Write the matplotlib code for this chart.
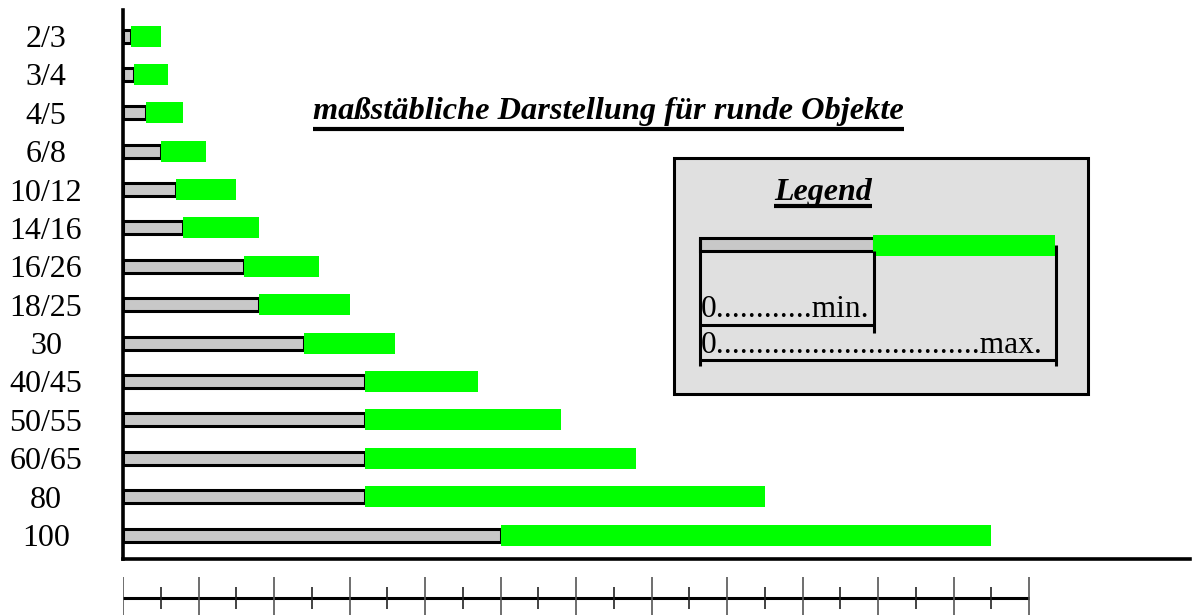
import matplotlib
matplotlib.use("Agg")
import matplotlib.pyplot as plt
from matplotlib.patches import Rectangle
from matplotlib.lines import Line2D
import numpy as np

# ---------------- data ----------------
categories = ["2/3", "3/4", "4/5", "6/8", "10/12", "14/16", "16/26", "18/25",
              "30", "40/45", "50/55", "60/65", "80", "100"]
min_values = [1, 1.5, 3, 5, 7, 8, 16, 18, 24, 32, 32, 32, 32, 50]
max_values = [5, 6, 8, 11, 15, 18, 26, 30, 36, 47, 58, 68, 85, 115]
ruler_max = 120
title_text = "maßstäbliche Darstellung für runde Objekte"
legend_title = "Legend"
legend_min_text = "0" + "." * 12 + "min."
legend_max_text = "0" + "." * 33 + "max."

# ---------------- layout ----------------
W, H = 1196, 616
SERIF = ["Liberation Serif", "DejaVu Serif"]
GRAY = "#c8c8c8"
GREEN = "#00ff00"
PX_PER_UNIT = 7.55

fig = plt.figure(figsize=(W / 100, H / 100), dpi=100)
fig.patch.set_facecolor("white")

ax_left_px, ax_right_px = 123, 1190
ax_top_px, ax_bottom_px = 10, 559
ax = fig.add_axes([ax_left_px / W, 1 - ax_bottom_px / H,
                   (ax_right_px - ax_left_px) / W, (ax_bottom_px - ax_top_px) / H])
ax.set_xlim(0, (ax_right_px - ax_left_px) / PX_PER_UNIT)
row_px = (535 - 36) / 13.0
ax.set_ylim((ax_bottom_px - 36) / row_px, -(36 - ax_top_px) / row_px)

y = np.arange(len(categories))
mins = np.array(min_values)
maxs = np.array(max_values)

ax.barh(y, mins, height=13 / row_px, color=GRAY, edgecolor="black",
        linewidth=2.2, zorder=2)
ax.barh(y, maxs - mins, left=mins, height=21 / row_px, color=GREEN,
        edgecolor="none", zorder=3)

for s in ["top", "right"]:
    ax.spines[s].set_visible(False)
ax.spines["left"].set_linewidth(2.6)
ax.spines["bottom"].set_linewidth(2.6)
ax.set_xticks([])
ax.set_yticks(y)
ax.set_yticklabels(categories, family=SERIF, fontsize=23)
for lbl in ax.get_yticklabels():
    lbl.set_horizontalalignment("center")
ax.tick_params(axis="y", length=0, pad=(ax_left_px - 46) * 72 / 100)

# ---------------- ruler below ----------------
ax_r = fig.add_axes([ax_left_px / W, 0, (ax_right_px - ax_left_px) / W, 46 / H])
ax_r.set_xlim(ax.get_xlim())
ax_r.set_ylim(0, 46)
ax_r.axis("off")
ax_r.plot([-0.13, ruler_max], [18, 18], color="black", lw=2.2,
          solid_capstyle="butt")
majors = np.arange(0, ruler_max + 1, 10)
minors = np.arange(5, ruler_max, 10)
ax_r.vlines(majors, 1, 39, color="#555555", lw=1.2)
ax_r.vlines(minors, 7, 29, color="#222222", lw=1.2)

# ---------------- overlay (pixel coordinates) ----------------
ov = fig.add_axes([0, 0, 1, 1], zorder=5)
ov.set_xlim(0, W)
ov.set_ylim(H, 0)
ov.axis("off")
ov.patch.set_alpha(0)


def underline(t, y_px, lw=3):
    fig.canvas.draw()
    bb = t.get_window_extent()
    x0 = bb.x0 * W / fig.bbox.width
    x1 = bb.x1 * W / fig.bbox.width
    ov.add_line(Line2D([x0, x1], [y_px, y_px], color="black", lw=lw,
                       solid_capstyle="butt"))


title = ov.text(313, 119, title_text, family=SERIF, fontsize=23.3,
                fontweight="bold", fontstyle="italic", ha="left",
                va="baseline")
underline(title, 128.5)

# legend box
ov.add_patch(Rectangle((674, 158), 414, 236, facecolor="#e0e0e0",
                       edgecolor="black", lw=2.2, zorder=1))
lt = ov.text(823, 200, legend_title, family=SERIF, fontsize=23,
             fontweight="bold", fontstyle="italic", ha="center",
             va="baseline", zorder=3)
underline(lt, 205.5)

ov.add_patch(Rectangle((700, 238), 174, 13, facecolor=GRAY,
                       edgecolor="black", lw=2.2, zorder=2))
ov.add_patch(Rectangle((873, 235), 182, 21, facecolor=GREEN,
                       edgecolor="none", zorder=3))
kw = dict(color="black", lw=2.2, zorder=4, solid_capstyle="butt")
ov.add_line(Line2D([700, 700], [238, 366], **kw))
ov.add_line(Line2D([874, 874], [251, 333], **kw))
ov.add_line(Line2D([700, 874], [325, 325], **kw))
ov.add_line(Line2D([1056, 1056], [245, 366], **kw))
ov.add_line(Line2D([700, 1056], [360, 360], **kw))

ov.text(701, 317, legend_min_text, family=SERIF, fontsize=22.6, ha="left",
        va="baseline", zorder=4)
ov.text(701, 353, legend_max_text, family=SERIF, fontsize=22.6, ha="left",
        va="baseline", zorder=4)

fig.savefig("out.png", dpi=100)
